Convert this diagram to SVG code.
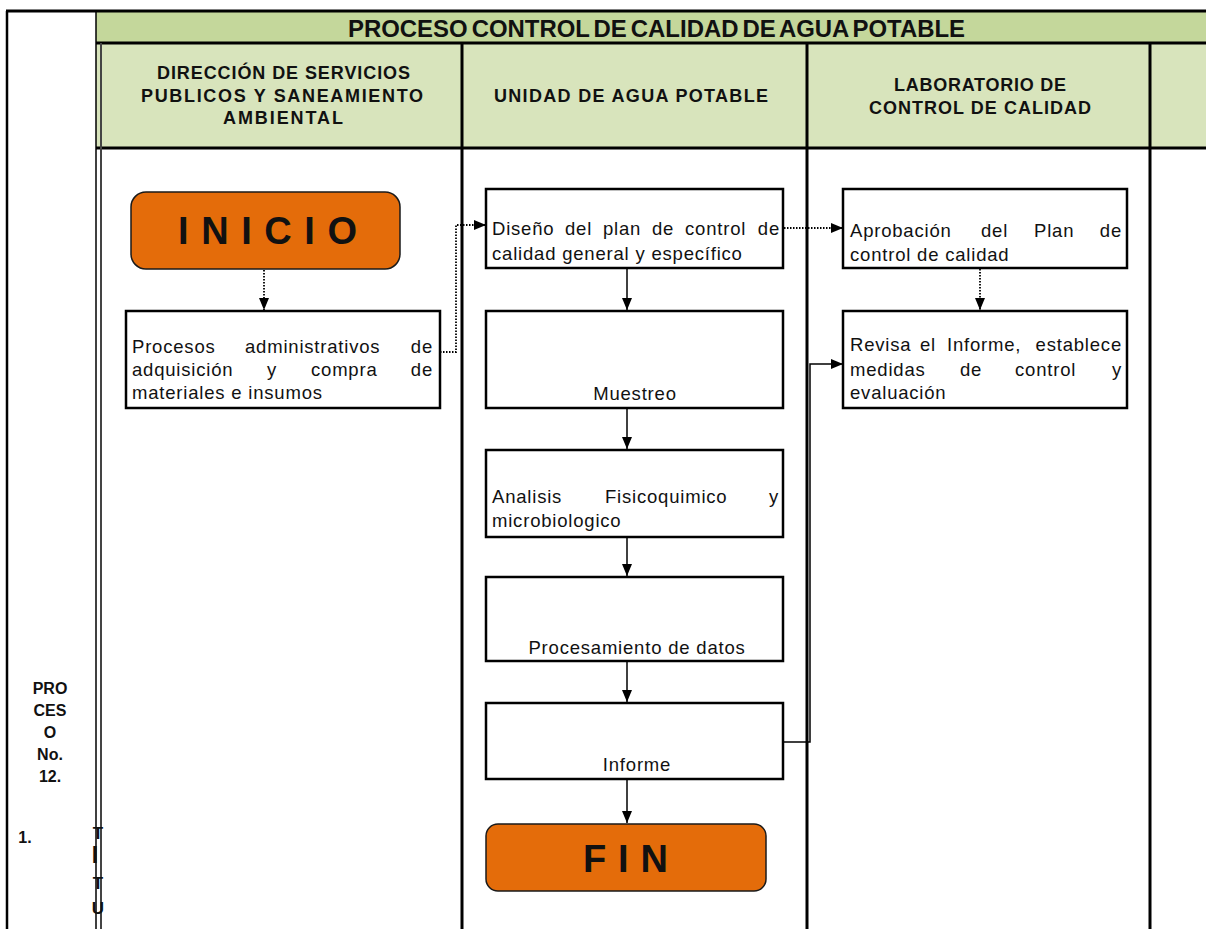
<svg xmlns="http://www.w3.org/2000/svg" width="1206" height="929" viewBox="0 0 1206 929">
  <style>
    .rule { stroke:#000; stroke-width:3; fill:none }
    .box { fill:#fff; stroke:#000; stroke-width:2.5 }
    .term { fill:#e46c0a; stroke:#1a1a1a; stroke-width:1.5 }
    .t { font-family:"Liberation Sans", Arial, sans-serif; font-size:18.5px; letter-spacing:0.8px; fill:#111 }
    .hd { font-family:"Liberation Sans", Arial, sans-serif; font-size:18px; font-weight:bold; fill:#111 }
    .big { font-family:"Liberation Sans", Arial, sans-serif; font-size:38px; font-weight:bold; fill:#111 }
    .side { font-family:"Liberation Sans", Arial, sans-serif; font-size:16px; font-weight:bold; fill:#111; text-anchor:middle }
    .flow { stroke:#000; stroke-width:1.5; fill:none }
    .dot { stroke-dasharray:1.5 1.5; stroke-width:1.8 }
  </style>
  <defs>
    <marker id="ah" viewBox="0 0 12 10" refX="12" refY="5" markerWidth="12" markerHeight="10" markerUnits="userSpaceOnUse" orient="auto">
      <path d="M0,0 L12,5 L0,10 Z" fill="#000"/>
    </marker>
    <clipPath id="strip"><rect x="90" y="820" width="15" height="105"/></clipPath>
  </defs>

  <rect x="0" y="0" width="1206" height="929" fill="#fff"/>

  <!-- swimlane frame -->
  <g id="frame">
    <rect x="96" y="11" width="1110" height="32" fill="#c4d79b"/>
    <rect x="96" y="43" width="1110" height="105" fill="#d8e4bc"/>
    <path class="rule" d="M6,11 H1206"/>
    <path class="rule" d="M96,43 H1206"/>
    <path class="rule" d="M96,148 H1206"/>
    <path d="M7,11 V929" stroke="#000" stroke-width="2.5"/>
    <path d="M96,11 V929" stroke="#000" stroke-width="1.5"/>
    <path d="M101,43 V929" stroke="#444" stroke-width="2"/>
    <path class="rule" d="M462,43 V929"/>
    <path class="rule" d="M807,43 V929"/>
    <path class="rule" d="M1150,43 V929"/>
  </g>

  <!-- titles -->
  <g id="title">
    <text class="hd" x="348" y="37" style="font-size:23px;word-spacing:-2.5px" textLength="617" lengthAdjust="spacingAndGlyphs">PROCESO CONTROL DE CALIDAD DE AGUA POTABLE</text>
  </g>
  <g id="lane-direccion">
    <text class="hd" x="157" y="79" textLength="253" lengthAdjust="spacing">DIRECCIÓN DE SERVICIOS</text>
    <text class="hd" x="141" y="102" textLength="282" lengthAdjust="spacing">PUBLICOS Y SANEAMIENTO</text>
    <text class="hd" x="223" y="124" textLength="120" lengthAdjust="spacing">AMBIENTAL</text>
  </g>
  <g id="lane-unidad">
    <text class="hd" x="494" y="102" textLength="274" lengthAdjust="spacing">UNIDAD DE AGUA POTABLE</text>
  </g>
  <g id="lane-laboratorio">
    <text class="hd" x="894" y="91" textLength="172" lengthAdjust="spacing">LABORATORIO DE</text>
    <text class="hd" x="869" y="114" textLength="222" lengthAdjust="spacing">CONTROL DE CALIDAD</text>
  </g>

  <!-- process label column -->
  <g id="process-label">
    <text class="side" x="50" y="694">PRO</text>
    <text class="side" x="50" y="716">CES</text>
    <text class="side" x="50" y="738">O</text>
    <text class="side" x="50" y="760">No.</text>
    <text class="side" x="50" y="782">12.</text>
    <text class="side" x="25" y="843">1.</text>
    <g clip-path="url(#strip)">
      <text class="side" x="98" y="839" style="font-size:17px">T</text>
      <text class="side" x="95" y="863" style="font-size:23px">I</text>
      <text class="side" x="98" y="889" style="font-size:17px">T</text>
      <text class="side" x="98" y="914" style="font-size:17px">U</text>
    </g>
  </g>

  <!-- connectors -->
  <g id="connectors">
    <path class="flow dot" d="M264,270 V310" marker-end="url(#ah)"/>
    <path class="flow dot" d="M440,352 H456 V225 H486" marker-end="url(#ah)"/>
    <path class="flow dot" d="M784,228 H843" marker-end="url(#ah)"/>
    <path class="flow dot" d="M980,269 V310" marker-end="url(#ah)"/>
    <path class="flow" d="M627,269 V310" marker-end="url(#ah)"/>
    <path class="flow" d="M627,409 V449" marker-end="url(#ah)"/>
    <path class="flow" d="M627,538 V576" marker-end="url(#ah)"/>
    <path class="flow" d="M627,662 V702" marker-end="url(#ah)"/>
    <path class="flow" d="M627,780 V823" marker-end="url(#ah)"/>
    <path class="flow" d="M767,742 H810 V364 H843" marker-end="url(#ah)"/>
  </g>

  <!-- nodes -->
  <g id="inicio">
    <rect class="term" x="131" y="192" width="269" height="77" rx="15"/>
    <text class="big" x="178" y="244" textLength="179" lengthAdjust="spacing">INICIO</text>
  </g>

  <g id="procesos-administrativos">
    <rect class="box" x="126" y="311" width="314" height="97"/>
    <text class="t" y="353"><tspan x="132">Procesos</tspan><tspan x="245">administrativos</tspan><tspan x="433" text-anchor="end">de</tspan></text>
    <text class="t" y="376"><tspan x="132">adquisición</tspan><tspan x="267">y</tspan><tspan x="311">compra</tspan><tspan x="433" text-anchor="end">de</tspan></text>
    <text class="t" x="132" y="399">materiales e insumos</text>
  </g>

  <g id="diseno-plan">
    <rect class="box" x="486" y="189" width="297" height="79"/>
    <text class="t" y="235"><tspan x="492">Diseño</tspan><tspan x="565">del</tspan><tspan x="603">plan</tspan><tspan x="652">de</tspan><tspan x="685">control</tspan><tspan x="780" text-anchor="end">de</tspan></text>
    <text class="t" x="492" y="260">calidad general y específico</text>
  </g>

  <g id="muestreo">
    <rect class="box" x="486" y="311" width="297" height="97"/>
    <text class="t" x="635" y="400" text-anchor="middle">Muestreo</text>
  </g>

  <g id="analisis">
    <rect class="box" x="486" y="450" width="297" height="87"/>
    <text class="t" y="503"><tspan x="492">Analisis</tspan><tspan x="605">Fisicoquimico</tspan><tspan x="779" text-anchor="end">y</tspan></text>
    <text class="t" x="492" y="527">microbiologico</text>
  </g>

  <g id="procesamiento">
    <rect class="box" x="486" y="577" width="297" height="84"/>
    <text class="t" x="637" y="654" text-anchor="middle">Procesamiento de datos</text>
  </g>

  <g id="informe">
    <rect class="box" x="486" y="703" width="297" height="76"/>
    <text class="t" x="637" y="771" text-anchor="middle">Informe</text>
  </g>

  <g id="fin">
    <rect class="term" x="486" y="824" width="280" height="67" rx="12"/>
    <text class="big" x="583" y="872" textLength="85" lengthAdjust="spacing">FIN</text>
  </g>

  <g id="aprobacion-plan">
    <rect class="box" x="843" y="189" width="284" height="79"/>
    <text class="t" y="237"><tspan x="850">Aprobación</tspan><tspan x="981">del</tspan><tspan x="1034">Plan</tspan><tspan x="1122" text-anchor="end">de</tspan></text>
    <text class="t" x="850" y="261">control de calidad</text>
  </g>

  <g id="revisa-informe">
    <rect class="box" x="843" y="311" width="284" height="97"/>
    <text class="t" y="351"><tspan x="850">Revisa</tspan><tspan x="920">el</tspan><tspan x="947">Informe,</tspan><tspan x="1122" text-anchor="end">establece</tspan></text>
    <text class="t" y="376"><tspan x="850">medidas</tspan><tspan x="960">de</tspan><tspan x="1015">control</tspan><tspan x="1122" text-anchor="end">y</tspan></text>
    <text class="t" x="850" y="399">evaluación</text>
  </g>
</svg>
